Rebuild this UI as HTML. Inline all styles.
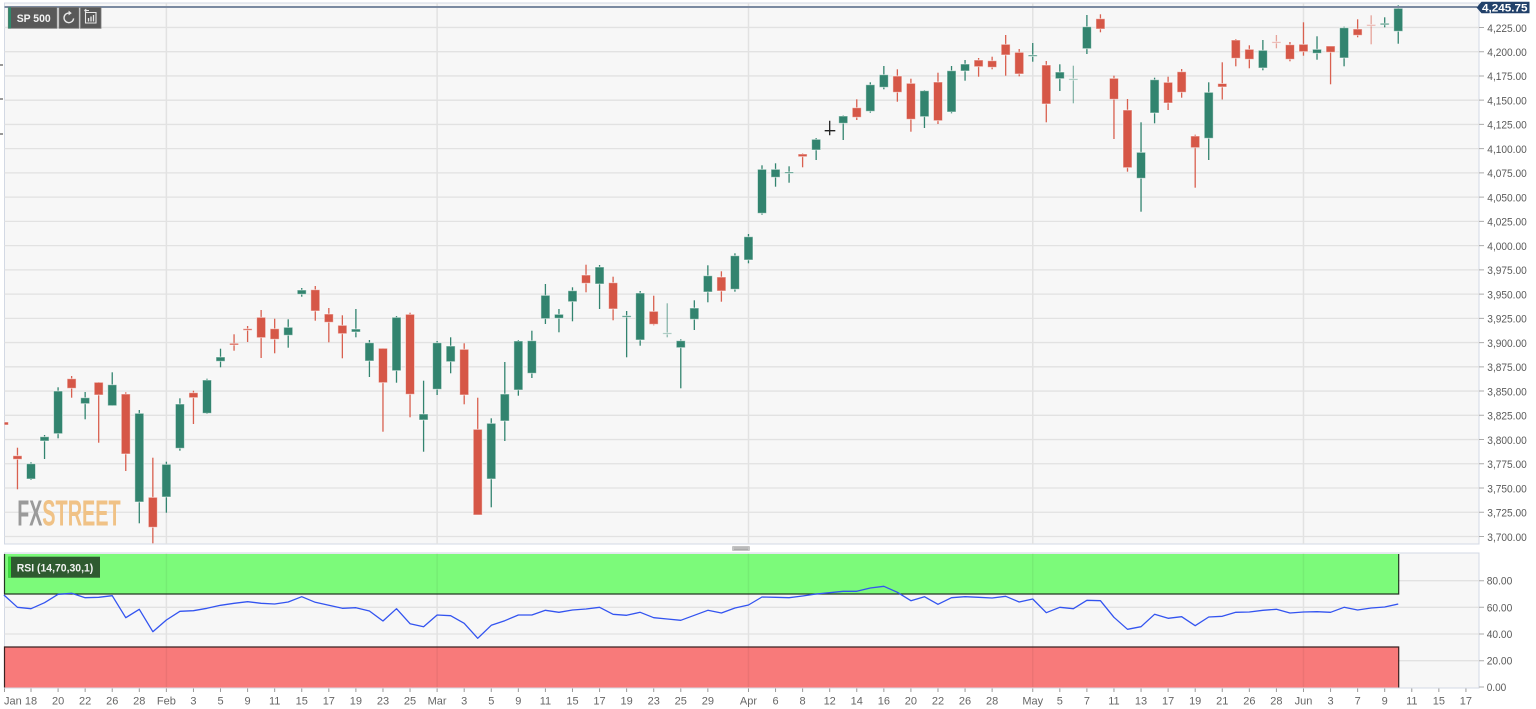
<!DOCTYPE html>
<html>
<head>
<meta charset="utf-8">
<style>
html,body{margin:0;padding:0;background:#fff;}
svg{display:block;font-family:"Liberation Sans",Arial,sans-serif;}
.c line{stroke-width:1.3}
.g line{stroke:#32846f}
.g rect{fill:#32846f;stroke:rgba(255,255,255,.55);stroke-width:1}
.r line{stroke:#d9604f}
.r rect{fill:#d65747;stroke:rgba(255,255,255,.55);stroke-width:1}
.p{opacity:.55}
.ax{fill:#5a5a5a;font-size:11px}
.bx{fill:#666;font-size:11px;text-anchor:middle}
</style>
</head>
<body>
<svg width="1536" height="709" viewBox="0 0 1536 709" xmlns="http://www.w3.org/2000/svg">
<defs>
<clipPath id="mc"><rect x="4.5" y="3" width="1474.5" height="541"/></clipPath>
</defs>
<rect x="0" y="0" width="1536" height="709" fill="#fff"/>

<!-- MAIN PANEL -->
<rect x="4.5" y="3" width="1474.5" height="541" fill="#f7f7f7" stroke="#d3d9e4" stroke-width="1"/>
<path d="M4.5 536.5H1479M4.5 512.26H1479M4.5 488.02H1479M4.5 463.78H1479M4.5 439.54H1479M4.5 415.3H1479M4.5 391.06H1479M4.5 366.82H1479M4.5 342.58H1479M4.5 318.34H1479M4.5 294.1H1479M4.5 269.86H1479M4.5 245.62H1479M4.5 221.38H1479M4.5 197.14H1479M4.5 172.9H1479M4.5 148.66H1479M4.5 124.42H1479M4.5 100.18H1479M4.5 75.94H1479M4.5 51.7H1479M4.5 27.46H1479" stroke="#e2e2e2" stroke-width="1.3" fill="none"/>
<path d="M166.37 3V544M437.11 3V544M748.47 3V544M1032.74 3V544M1303.48 3V544" stroke="#e2e2e2" stroke-width="1.5" fill="none"/>

<!-- watermark -->
<text x="17.3" y="525.7" font-size="36" font-weight="bold" fill="#9a9a9a" textLength="25" lengthAdjust="spacingAndGlyphs">FX</text>
<text x="42.3" y="525.7" font-size="36" font-weight="bold" fill="#f0c286" textLength="78.4" lengthAdjust="spacingAndGlyphs">STREET</text>

<!-- candles -->
<g clip-path="url(#mc)">
<g class="c r" transform="translate(3.93 0)"><line y1="420" y2="426"/><rect x="-4.5" y="422" width="9" height="3"/></g>
<g class="c r" transform="translate(17.47 0)"><line y1="447.7" y2="489.3"/><rect x="-4.5" y="455.7" width="9" height="3.6"/></g>
<g class="c g" transform="translate(31 0)"><line y1="462.3" y2="480"/><rect x="-4.5" y="463.7" width="9" height="15.3"/></g>
<g class="c g" transform="translate(44.54 0)"><line y1="435" y2="459"/><rect x="-4.5" y="436.7" width="9" height="4.3"/></g>
<g class="c g" transform="translate(58.08 0)"><line y1="387.3" y2="438.3"/><rect x="-4.5" y="391" width="9" height="42.7"/></g>
<g class="c r" transform="translate(71.62 0)"><line y1="376" y2="397.7"/><rect x="-4.5" y="378.7" width="9" height="9.6"/></g>
<g class="c g" transform="translate(85.15 0)"><line y1="392" y2="419.3"/><rect x="-4.5" y="397.7" width="9" height="6"/></g>
<g class="c r" transform="translate(98.69 0)"><line y1="382" y2="442.7"/><rect x="-4.5" y="382.3" width="9" height="12.7"/></g>
<g class="c g" transform="translate(112.23 0)"><line y1="372.3" y2="405.7"/><rect x="-4.5" y="384.7" width="9" height="21"/></g>
<g class="c r" transform="translate(125.76 0)"><line y1="392.3" y2="471"/><rect x="-4.5" y="394" width="9" height="60"/></g>
<g class="c g" transform="translate(139.3 0)"><line y1="410" y2="523.3"/><rect x="-4.5" y="413.3" width="9" height="88.7"/></g>
<g class="c r" transform="translate(152.84 0)"><line y1="457.7" y2="543.3"/><rect x="-4.5" y="497.3" width="9" height="30"/></g>
<g class="c g" transform="translate(166.37 0)"><line y1="461.7" y2="512.7"/><rect x="-4.5" y="464.3" width="9" height="32.7"/></g>
<g class="c g" transform="translate(179.91 0)"><line y1="398.3" y2="450.7"/><rect x="-4.5" y="404" width="9" height="44.3"/></g>
<g class="c r" transform="translate(193.45 0)"><line y1="390.7" y2="424"/><rect x="-4.5" y="392.7" width="9" height="5"/></g>
<g class="c g" transform="translate(206.99 0)"><line y1="378.7" y2="414"/><rect x="-4.5" y="380" width="9" height="33.3"/></g>
<g class="c g" transform="translate(220.52 0)"><line y1="348.7" y2="367.3"/><rect x="-4.5" y="357" width="9" height="4.3"/></g>
<g class="c r" transform="translate(234.06 0)"><line y1="334.3" y2="350.7"/><rect x="-4.5" y="343.3" width="9" height="1.7"/></g>
<g class="c r" transform="translate(247.6 0)"><line y1="326" y2="342"/><rect x="-4.5" y="328.7" width="9" height="1.6"/></g>
<g class="c r" transform="translate(261.13 0)"><line y1="310" y2="358"/><rect x="-4.5" y="317.3" width="9" height="20.4"/></g>
<g class="c r" transform="translate(274.67 0)"><line y1="318.7" y2="353.3"/><rect x="-4.5" y="328.7" width="9" height="10.6"/></g>
<g class="c g" transform="translate(288.21 0)"><line y1="319.3" y2="347.7"/><rect x="-4.5" y="327.3" width="9" height="8"/></g>
<g class="c g" transform="translate(301.74 0)"><line y1="288" y2="296.7"/><rect x="-4.5" y="290" width="9" height="4.3"/></g>
<g class="c r" transform="translate(315.28 0)"><line y1="286" y2="320.7"/><rect x="-4.5" y="289.7" width="9" height="21.3"/></g>
<g class="c r" transform="translate(328.82 0)"><line y1="308" y2="342.3"/><rect x="-4.5" y="314" width="9" height="8.3"/></g>
<g class="c r" transform="translate(342.36 0)"><line y1="315.3" y2="358.3"/><rect x="-4.5" y="325.3" width="9" height="8.4"/></g>
<g class="c g" transform="translate(355.89 0)"><line y1="309" y2="337.3"/><rect x="-4.5" y="329" width="9" height="3"/></g>
<g class="c g" transform="translate(369.43 0)"><line y1="340" y2="377"/><rect x="-4.5" y="342.7" width="9" height="18.3"/></g>
<g class="c r" transform="translate(382.97 0)"><line y1="348.3" y2="431.7"/><rect x="-4.5" y="348.3" width="9" height="34.4"/></g>
<g class="c g" transform="translate(396.5 0)"><line y1="316" y2="382.7"/><rect x="-4.5" y="317.3" width="9" height="53.4"/></g>
<g class="c r" transform="translate(410.04 0)"><line y1="312.7" y2="417.3"/><rect x="-4.5" y="314.3" width="9" height="80"/></g>
<g class="c g" transform="translate(423.58 0)"><line y1="380.7" y2="451.7"/><rect x="-4.5" y="414" width="9" height="6"/></g>
<g class="c g" transform="translate(437.11 0)"><line y1="341" y2="395"/><rect x="-4.5" y="342.7" width="9" height="46.6"/></g>
<g class="c g" transform="translate(450.65 0)"><line y1="337.3" y2="373.3"/><rect x="-4.5" y="346" width="9" height="15.7"/></g>
<g class="c r" transform="translate(464.19 0)"><line y1="343.3" y2="404.3"/><rect x="-4.5" y="349.3" width="9" height="45.7"/></g>
<g class="c r" transform="translate(477.73 0)"><line y1="397.7" y2="515"/><rect x="-4.5" y="429.3" width="9" height="85.7"/></g>
<g class="c g" transform="translate(491.26 0)"><line y1="418.3" y2="507.3"/><rect x="-4.5" y="423.3" width="9" height="55.7"/></g>
<g class="c g" transform="translate(504.8 0)"><line y1="362" y2="441"/><rect x="-4.5" y="394" width="9" height="27"/></g>
<g class="c g" transform="translate(518.34 0)"><line y1="340" y2="395.7"/><rect x="-4.5" y="341" width="9" height="49"/></g>
<g class="c g" transform="translate(531.87 0)"><line y1="330.7" y2="378"/><rect x="-4.5" y="340.7" width="9" height="32.6"/></g>
<g class="c g" transform="translate(545.41 0)"><line y1="284" y2="324"/><rect x="-4.5" y="295.3" width="9" height="23.4"/></g>
<g class="c g" transform="translate(558.95 0)"><line y1="309" y2="332.3"/><rect x="-4.5" y="314.3" width="9" height="4"/></g>
<g class="c g" transform="translate(572.48 0)"><line y1="287.3" y2="321.3"/><rect x="-4.5" y="290.7" width="9" height="11"/></g>
<g class="c r" transform="translate(586.02 0)"><line y1="264.7" y2="292.3"/><rect x="-4.5" y="275" width="9" height="8.3"/></g>
<g class="c g" transform="translate(599.56 0)"><line y1="265" y2="309"/><rect x="-4.5" y="267" width="9" height="17"/></g>
<g class="c r" transform="translate(613.1 0)"><line y1="276.7" y2="320.3"/><rect x="-4.5" y="282.7" width="9" height="26.3"/></g>
<g class="c g" transform="translate(626.63 0)"><line y1="311" y2="357.3"/><rect x="-4.5" y="315.7" width="9" height="1.5"/></g>
<g class="c g" transform="translate(640.17 0)"><line y1="291" y2="345.7"/><rect x="-4.5" y="293" width="9" height="47"/></g>
<g class="c r" transform="translate(653.71 0)"><line y1="295.7" y2="325.3"/><rect x="-4.5" y="311.3" width="9" height="13"/></g>
<g class="c g p" transform="translate(667.24 0)"><line y1="303.3" y2="337.3"/><rect x="-4.5" y="332.8" width="9" height="1.4"/></g>
<g class="c g" transform="translate(680.78 0)"><line y1="339.3" y2="388.3"/><rect x="-4.5" y="340.7" width="9" height="7"/></g>
<g class="c g" transform="translate(694.32 0)"><line y1="300.3" y2="330"/><rect x="-4.5" y="308" width="9" height="11.3"/></g>
<g class="c g" transform="translate(707.85 0)"><line y1="265.3" y2="302.3"/><rect x="-4.5" y="275.7" width="9" height="16.3"/></g>
<g class="c r" transform="translate(721.39 0)"><line y1="271.3" y2="301.7"/><rect x="-4.5" y="277" width="9" height="14"/></g>
<g class="c g" transform="translate(734.93 0)"><line y1="253.3" y2="291.7"/><rect x="-4.5" y="255.7" width="9" height="33.6"/></g>
<g class="c g" transform="translate(748.47 0)"><line y1="234" y2="263.3"/><rect x="-4.5" y="236.7" width="9" height="23.3"/></g>
<g class="c g" transform="translate(762 0)"><line y1="165.3" y2="214.7"/><rect x="-4.5" y="169.3" width="9" height="44"/></g>
<g class="c g" transform="translate(775.54 0)"><line y1="163.3" y2="186.7"/><rect x="-4.5" y="169.3" width="9" height="8"/></g>
<g class="c g" transform="translate(789.08 0)"><line y1="166.3" y2="182.7"/><rect x="-4.5" y="172" width="9" height="1.4"/></g>
<g class="c r" transform="translate(802.61 0)"><line y1="153.3" y2="167.3"/><rect x="-4.5" y="154" width="9" height="2.7"/></g>
<g class="c g" transform="translate(816.15 0)"><line y1="138" y2="160"/><rect x="-4.5" y="139.3" width="9" height="10.7"/></g>
<path d="M829.69 120.7V135.3M824.7 130.7H835.3" stroke="#222" stroke-width="1.3"/>
<g class="c g" transform="translate(843.22 0)"><line y1="115.3" y2="140"/><rect x="-4.5" y="116" width="9" height="7.3"/></g>
<g class="c r" transform="translate(856.76 0)"><line y1="99.3" y2="120"/><rect x="-4.5" y="107.7" width="9" height="9.6"/></g>
<g class="c g" transform="translate(870.3 0)"><line y1="82.3" y2="112.7"/><rect x="-4.5" y="84.7" width="9" height="26.6"/></g>
<g class="c g" transform="translate(883.84 0)"><line y1="66" y2="89.3"/><rect x="-4.5" y="74.7" width="9" height="12.6"/></g>
<g class="c r" transform="translate(897.37 0)"><line y1="69.3" y2="101.7"/><rect x="-4.5" y="76" width="9" height="16.3"/></g>
<g class="c r" transform="translate(910.91 0)"><line y1="78.7" y2="131.7"/><rect x="-4.5" y="83.3" width="9" height="36"/></g>
<g class="c g" transform="translate(924.45 0)"><line y1="90" y2="128"/><rect x="-4.5" y="90.7" width="9" height="26"/></g>
<g class="c r" transform="translate(937.98 0)"><line y1="72.7" y2="124"/><rect x="-4.5" y="82" width="9" height="38.7"/></g>
<g class="c g" transform="translate(951.52 0)"><line y1="66" y2="113.3"/><rect x="-4.5" y="70.7" width="9" height="41.3"/></g>
<g class="c g" transform="translate(965.06 0)"><line y1="60" y2="80.7"/><rect x="-4.5" y="64" width="9" height="7"/></g>
<g class="c r" transform="translate(978.59 0)"><line y1="58" y2="76.7"/><rect x="-4.5" y="60" width="9" height="6.7"/></g>
<g class="c r" transform="translate(992.13 0)"><line y1="56.7" y2="69.3"/><rect x="-4.5" y="60.7" width="9" height="6.6"/></g>
<g class="c r" transform="translate(1005.67 0)"><line y1="35" y2="75.7"/><rect x="-4.5" y="44.3" width="9" height="10.7"/></g>
<g class="c r" transform="translate(1019.21 0)"><line y1="49" y2="76.3"/><rect x="-4.5" y="52.3" width="9" height="21.7"/></g>
<g class="c g" transform="translate(1032.74 0)"><line y1="43" y2="61.7"/><rect x="-4.5" y="55" width="9" height="1.4"/></g>
<g class="c r" transform="translate(1046.28 0)"><line y1="61" y2="122.3"/><rect x="-4.5" y="65" width="9" height="39"/></g>
<g class="c g" transform="translate(1059.82 0)"><line y1="64.3" y2="91"/><rect x="-4.5" y="72" width="9" height="6.7"/></g>
<g class="c g p" transform="translate(1073.35 0)"><line y1="65.7" y2="103.3"/><rect x="-4.5" y="78.7" width="9" height="1.4"/></g>
<g class="c g" transform="translate(1086.89 0)"><line y1="15" y2="54"/><rect x="-4.5" y="26.7" width="9" height="22"/></g>
<g class="c r" transform="translate(1100.43 0)"><line y1="14.3" y2="32.3"/><rect x="-4.5" y="18.7" width="9" height="10.3"/></g>
<g class="c r" transform="translate(1113.96 0)"><line y1="75.7" y2="139"/><rect x="-4.5" y="78.3" width="9" height="21"/></g>
<g class="c r" transform="translate(1127.5 0)"><line y1="99" y2="171.7"/><rect x="-4.5" y="110" width="9" height="57.7"/></g>
<g class="c g" transform="translate(1141.04 0)"><line y1="122.3" y2="211.7"/><rect x="-4.5" y="152.3" width="9" height="26"/></g>
<g class="c g" transform="translate(1154.58 0)"><line y1="77.7" y2="123.3"/><rect x="-4.5" y="79.7" width="9" height="33.3"/></g>
<g class="c r" transform="translate(1168.11 0)"><line y1="76.7" y2="110"/><rect x="-4.5" y="82.3" width="9" height="20.7"/></g>
<g class="c r" transform="translate(1181.65 0)"><line y1="69" y2="97.7"/><rect x="-4.5" y="71.7" width="9" height="20.6"/></g>
<g class="c r" transform="translate(1195.19 0)"><line y1="134.7" y2="187.7"/><rect x="-4.5" y="136" width="9" height="11.7"/></g>
<g class="c g" transform="translate(1208.72 0)"><line y1="82.3" y2="160"/><rect x="-4.5" y="92.3" width="9" height="46"/></g>
<g class="c r" transform="translate(1222.26 0)"><line y1="62.3" y2="99.5"/><rect x="-4.5" y="83.5" width="9" height="3.5"/></g>
<g class="c r" transform="translate(1235.8 0)"><line y1="39" y2="66.3"/><rect x="-4.5" y="40" width="9" height="18.3"/></g>
<g class="c r" transform="translate(1249.33 0)"><line y1="45.3" y2="68.3"/><rect x="-4.5" y="49.3" width="9" height="10"/></g>
<g class="c g" transform="translate(1262.87 0)"><line y1="40" y2="70.3"/><rect x="-4.5" y="50.3" width="9" height="17.7"/></g>
<g class="c r p" transform="translate(1276.41 0)"><line y1="35" y2="48.3"/><rect x="-4.5" y="41.7" width="9" height="1.4"/></g>
<g class="c r" transform="translate(1289.95 0)"><line y1="42" y2="61.3"/><rect x="-4.5" y="44.7" width="9" height="14.6"/></g>
<g class="c r" transform="translate(1303.48 0)"><line y1="22.3" y2="55.7"/><rect x="-4.5" y="44.3" width="9" height="7.4"/></g>
<g class="c g" transform="translate(1317.02 0)"><line y1="36.3" y2="59.7"/><rect x="-4.5" y="49.3" width="9" height="4"/></g>
<g class="c r" transform="translate(1330.56 0)"><line y1="46" y2="84.3"/><rect x="-4.5" y="46" width="9" height="6.3"/></g>
<g class="c g" transform="translate(1344.09 0)"><line y1="26.7" y2="66.3"/><rect x="-4.5" y="27.7" width="9" height="30.3"/></g>
<g class="c r" transform="translate(1357.63 0)"><line y1="19.3" y2="37.3"/><rect x="-4.5" y="29" width="9" height="6.3"/></g>
<g class="c r p" transform="translate(1371.17 0)"><line y1="15.3" y2="44.3"/><rect x="-4.5" y="24.5" width="9" height="1.4"/></g>
<g class="c g" transform="translate(1384.7 0)"><line y1="17.3" y2="27.3"/><rect x="-4.5" y="23.3" width="9" height="1.5"/></g>
<g class="c g" transform="translate(1398.24 0)"><line y1="5.3" y2="43.7"/><rect x="-4.5" y="8.3" width="9" height="23"/></g>
</g>

<!-- current price line -->
<line x1="4.5" y1="7" x2="1477" y2="7" stroke="#7b8aa1" stroke-width="2"/>
<path d="M1476.5 7.5L1481.5 1.7H1529.5V13.3H1481.5Z" fill="#22416a"/>
<text x="1482" y="11.6" font-size="11" font-weight="bold" fill="#fff" textLength="45.5" lengthAdjust="spacingAndGlyphs">4,245.75</text>

<!-- right axis ticks/labels -->
<path d="M1479 536.5h5M1479 512.26h5M1479 488.02h5M1479 463.78h5M1479 439.54h5M1479 415.3h5M1479 391.06h5M1479 366.82h5M1479 342.58h5M1479 318.34h5M1479 294.1h5M1479 269.86h5M1479 245.62h5M1479 221.38h5M1479 197.14h5M1479 172.9h5M1479 148.66h5M1479 124.42h5M1479 100.18h5M1479 75.94h5M1479 51.7h5M1479 27.46h5" stroke="#aaa" stroke-width="1"/>
<g class="ax">
<text x="1487.3" y="540.8" textLength="39.5" lengthAdjust="spacingAndGlyphs">3,700.00</text>
<text x="1487.3" y="516.6" textLength="39.5" lengthAdjust="spacingAndGlyphs">3,725.00</text>
<text x="1487.3" y="492.3" textLength="39.5" lengthAdjust="spacingAndGlyphs">3,750.00</text>
<text x="1487.3" y="468.1" textLength="39.5" lengthAdjust="spacingAndGlyphs">3,775.00</text>
<text x="1487.3" y="443.8" textLength="39.5" lengthAdjust="spacingAndGlyphs">3,800.00</text>
<text x="1487.3" y="419.6" textLength="39.5" lengthAdjust="spacingAndGlyphs">3,825.00</text>
<text x="1487.3" y="395.4" textLength="39.5" lengthAdjust="spacingAndGlyphs">3,850.00</text>
<text x="1487.3" y="371.1" textLength="39.5" lengthAdjust="spacingAndGlyphs">3,875.00</text>
<text x="1487.3" y="346.9" textLength="39.5" lengthAdjust="spacingAndGlyphs">3,900.00</text>
<text x="1487.3" y="322.6" textLength="39.5" lengthAdjust="spacingAndGlyphs">3,925.00</text>
<text x="1487.3" y="298.4" textLength="39.5" lengthAdjust="spacingAndGlyphs">3,950.00</text>
<text x="1487.3" y="274.2" textLength="39.5" lengthAdjust="spacingAndGlyphs">3,975.00</text>
<text x="1487.3" y="249.9" textLength="39.5" lengthAdjust="spacingAndGlyphs">4,000.00</text>
<text x="1487.3" y="225.7" textLength="39.5" lengthAdjust="spacingAndGlyphs">4,025.00</text>
<text x="1487.3" y="201.4" textLength="39.5" lengthAdjust="spacingAndGlyphs">4,050.00</text>
<text x="1487.3" y="177.2" textLength="39.5" lengthAdjust="spacingAndGlyphs">4,075.00</text>
<text x="1487.3" y="153" textLength="39.5" lengthAdjust="spacingAndGlyphs">4,100.00</text>
<text x="1487.3" y="128.7" textLength="39.5" lengthAdjust="spacingAndGlyphs">4,125.00</text>
<text x="1487.3" y="104.5" textLength="39.5" lengthAdjust="spacingAndGlyphs">4,150.00</text>
<text x="1487.3" y="80.2" textLength="39.5" lengthAdjust="spacingAndGlyphs">4,175.00</text>
<text x="1487.3" y="56" textLength="39.5" lengthAdjust="spacingAndGlyphs">4,200.00</text>
<text x="1487.3" y="31.8" textLength="39.5" lengthAdjust="spacingAndGlyphs">4,225.00</text>
</g>

<!-- left edge marks -->
<path d="M0 65h3M0 99h3M0 134h3" stroke="#777" stroke-width="1.5"/>

<!-- toolbar -->
<rect x="8.3" y="7.3" width="48.7" height="21" fill="#595959" stroke="#7a7a7a" stroke-width="0.8"/>
<rect x="8.3" y="7.3" width="2.7" height="21" fill="#2f8a6c"/>
<text x="16.7" y="21.8" font-size="11" font-weight="bold" fill="#f2f2f2" textLength="34" lengthAdjust="spacingAndGlyphs">SP 500</text>
<rect x="59" y="7.3" width="20" height="21" fill="#595959" stroke="#7a7a7a" stroke-width="0.8"/>
<path d="M73.6 18.4A4.8 4.8 0 1 1 69.6 13.1" fill="none" stroke="#e8e8e8" stroke-width="1.4"/>
<path d="M68.6 10.6L71.8 13.1L68.6 15.4Z" fill="#e8e8e8"/>
<rect x="80.5" y="7.3" width="20.5" height="21" fill="#595959" stroke="#7a7a7a" stroke-width="0.8"/>
<path d="M85.5 12.5H96V23H85.5Z" fill="none" stroke="#e8e8e8" stroke-width="1.1"/>
<path d="M88.5 21.5V18M91 21.5V16.5M93.5 21.5V15" stroke="#e8e8e8" stroke-width="1.3"/>
<path d="M84.5 10.5H89M84.5 10.5L86.3 9M84.5 10.5L86.3 12" stroke="#e8e8e8" stroke-width="1"/>

<!-- drag handle -->
<rect x="732" y="546" width="18" height="5" rx="1" fill="#c4c4c4"/>
<path d="M734 548H748M734 549.6H748" stroke="#9a9a9a" stroke-width="0.6"/>

<!-- RSI PANEL -->
<rect x="4.5" y="553" width="1474.5" height="135" fill="#f7f7f7" stroke="#d3d9e4" stroke-width="1"/>
<path d="M4.5 580.7H1479M4.5 607.3H1479M4.5 634H1479M4.5 660.7H1479" stroke="#e2e2e2" stroke-width="1.3"/>
<path d="M166.37 553V688M437.11 553V688M748.47 553V688M1032.74 553V688M1303.48 553V688" stroke="#e2e2e2" stroke-width="1.5"/>
<rect x="4.5" y="554" width="1394.2" height="40" fill="#7cfa7a"/>
<rect x="4.5" y="647" width="1394.2" height="40.5" fill="#f87a7a"/>
<path d="M166.37 554V594M437.11 554V594M748.47 554V594M1032.74 554V594M1303.48 554V594M166.37 647V687.5M437.11 647V687.5M748.47 647V687.5M1032.74 647V687.5M1303.48 647V687.5" stroke="rgba(0,0,0,0.05)" stroke-width="1.5"/>
<path d="M4.5 554V594H1398.7V554" fill="none" stroke="#233823" stroke-width="1.2"/>
<path d="M4.5 687.5V647H1398.7V687.5" fill="none" stroke="#3a2222" stroke-width="1.2"/>

<polyline fill="none" stroke="#3354f0" stroke-width="1.3" stroke-linejoin="round" points="3.93,595 17.47,607.3 31,608.7 44.54,602.7 58.08,594.3 71.62,593.3 85.15,597.7 98.69,597.3 112.23,595.7 125.76,617.7 139.3,609.3 152.84,631.7 166.37,620 179.91,611.3 193.45,610.7 206.99,608.3 220.52,605.3 234.06,603.3 247.6,601.7 261.13,603.3 274.67,604 288.21,602 301.74,596.7 315.28,602.3 328.82,605.3 342.36,608.3 355.89,607.7 369.43,611 382.97,621 396.5,608.7 410.04,623.7 423.58,626.7 437.11,615 450.65,615.7 464.19,623.3 477.73,638.3 491.26,625.3 504.8,620.7 518.34,615 531.87,615 545.41,610.3 558.95,612.3 572.48,610 586.02,609 599.56,607.3 613.1,614.3 626.63,615.3 640.17,612.3 653.71,617.7 667.24,619 680.78,620.3 694.32,615.3 707.85,610.3 721.39,613 734.93,608 748.47,605 762,597 775.54,597.3 789.08,597.7 802.61,596 816.15,594 829.69,592.7 843.22,591.3 856.76,591.3 870.3,588 883.84,586.3 897.37,592.3 910.91,600.7 924.45,596.7 937.98,604.3 951.52,597.7 965.06,596.7 978.59,597.3 992.13,598 1005.67,596.3 1019.21,602 1032.74,599 1046.28,612.7 1059.82,607.3 1073.35,608.7 1086.89,600.3 1100.43,600.7 1113.96,617.3 1127.5,629.3 1141.04,626.7 1154.58,614.3 1168.11,618.3 1181.65,616.7 1195.19,625.7 1208.72,617 1222.26,616.3 1235.8,612.3 1249.33,612 1262.87,610.3 1276.41,609.3 1289.95,613 1303.48,612 1317.02,611.7 1330.56,612.3 1344.09,607.3 1357.63,610 1371.17,608 1384.7,607 1398.24,604"/>

<rect x="8.3" y="556.7" width="91.7" height="21" fill="#2f5a30"/>
<rect x="8.3" y="556.7" width="2.7" height="21" fill="#39e03a"/>
<text x="16.7" y="571.3" font-size="11" font-weight="bold" fill="#f2f2f2" textLength="76.6" lengthAdjust="spacingAndGlyphs">RSI (14,70,30,1)</text>

<path d="M1479 580.7h5M1479 607.3h5M1479 634h5M1479 660.7h5M1479 687h5" stroke="#aaa" stroke-width="1"/>
<g class="ax">
<text x="1486.7" y="584.7" textLength="25.6" lengthAdjust="spacingAndGlyphs">80.00</text>
<text x="1486.7" y="611.3" textLength="25.6" lengthAdjust="spacingAndGlyphs">60.00</text>
<text x="1486.7" y="638" textLength="25.6" lengthAdjust="spacingAndGlyphs">40.00</text>
<text x="1486.7" y="664.7" textLength="25.6" lengthAdjust="spacingAndGlyphs">20.00</text>
<text x="1486.7" y="691" textLength="19.6" lengthAdjust="spacingAndGlyphs">0.00</text>
</g>

<!-- bottom axis -->
<path d="M4.5 688.5v3.5M31 688.5v3.5M58.08 688.5v3.5M85.15 688.5v3.5M112.23 688.5v3.5M139.3 688.5v3.5M166.37 688.5v3.5M193.45 688.5v3.5M220.52 688.5v3.5M247.6 688.5v3.5M274.67 688.5v3.5M301.74 688.5v3.5M328.82 688.5v3.5M355.89 688.5v3.5M382.97 688.5v3.5M410.04 688.5v3.5M437.11 688.5v3.5M464.19 688.5v3.5M491.26 688.5v3.5M518.34 688.5v3.5M545.41 688.5v3.5M572.48 688.5v3.5M599.56 688.5v3.5M626.63 688.5v3.5M653.71 688.5v3.5M680.78 688.5v3.5M707.85 688.5v3.5M748.47 688.5v3.5M775.54 688.5v3.5M802.61 688.5v3.5M829.69 688.5v3.5M856.76 688.5v3.5M883.84 688.5v3.5M910.91 688.5v3.5M937.98 688.5v3.5M965.06 688.5v3.5M992.13 688.5v3.5M1032.74 688.5v3.5M1059.82 688.5v3.5M1086.89 688.5v3.5M1113.96 688.5v3.5M1141.04 688.5v3.5M1168.11 688.5v3.5M1195.19 688.5v3.5M1222.26 688.5v3.5M1249.33 688.5v3.5M1276.41 688.5v3.5M1303.48 688.5v3.5M1330.56 688.5v3.5M1357.63 688.5v3.5M1384.7 688.5v3.5M1411.78 688.5v3.5M1438.85 688.5v3.5M1465.93 688.5v3.5" stroke="#9a9a9a" stroke-width="1"/>
<g class="bx">
<text x="4" y="704.3" style="text-anchor:start">Jan</text>
<text x="31" y="704.3">18</text>
<text x="58.08" y="704.3">20</text>
<text x="85.15" y="704.3">22</text>
<text x="112.23" y="704.3">26</text>
<text x="139.3" y="704.3">28</text>
<text x="166.37" y="704.3">Feb</text>
<text x="193.45" y="704.3">3</text>
<text x="220.52" y="704.3">5</text>
<text x="247.6" y="704.3">9</text>
<text x="274.67" y="704.3">11</text>
<text x="301.74" y="704.3">15</text>
<text x="328.82" y="704.3">17</text>
<text x="355.89" y="704.3">19</text>
<text x="382.97" y="704.3">23</text>
<text x="410.04" y="704.3">25</text>
<text x="437.11" y="704.3">Mar</text>
<text x="464.19" y="704.3">3</text>
<text x="491.26" y="704.3">5</text>
<text x="518.34" y="704.3">9</text>
<text x="545.41" y="704.3">11</text>
<text x="572.48" y="704.3">15</text>
<text x="599.56" y="704.3">17</text>
<text x="626.63" y="704.3">19</text>
<text x="653.71" y="704.3">23</text>
<text x="680.78" y="704.3">25</text>
<text x="707.85" y="704.3">29</text>
<text x="748.47" y="704.3">Apr</text>
<text x="775.54" y="704.3">6</text>
<text x="802.61" y="704.3">8</text>
<text x="829.69" y="704.3">12</text>
<text x="856.76" y="704.3">14</text>
<text x="883.84" y="704.3">16</text>
<text x="910.91" y="704.3">20</text>
<text x="937.98" y="704.3">22</text>
<text x="965.06" y="704.3">26</text>
<text x="992.13" y="704.3">28</text>
<text x="1032.74" y="704.3">May</text>
<text x="1059.82" y="704.3">5</text>
<text x="1086.89" y="704.3">7</text>
<text x="1113.96" y="704.3">11</text>
<text x="1141.04" y="704.3">13</text>
<text x="1168.11" y="704.3">17</text>
<text x="1195.19" y="704.3">19</text>
<text x="1222.26" y="704.3">21</text>
<text x="1249.33" y="704.3">26</text>
<text x="1276.41" y="704.3">28</text>
<text x="1303.48" y="704.3">Jun</text>
<text x="1330.56" y="704.3">3</text>
<text x="1357.63" y="704.3">7</text>
<text x="1384.7" y="704.3">9</text>
<text x="1411.78" y="704.3">11</text>
<text x="1438.85" y="704.3">15</text>
<text x="1465.93" y="704.3">17</text>
</g>
</svg>
</body>
</html>
